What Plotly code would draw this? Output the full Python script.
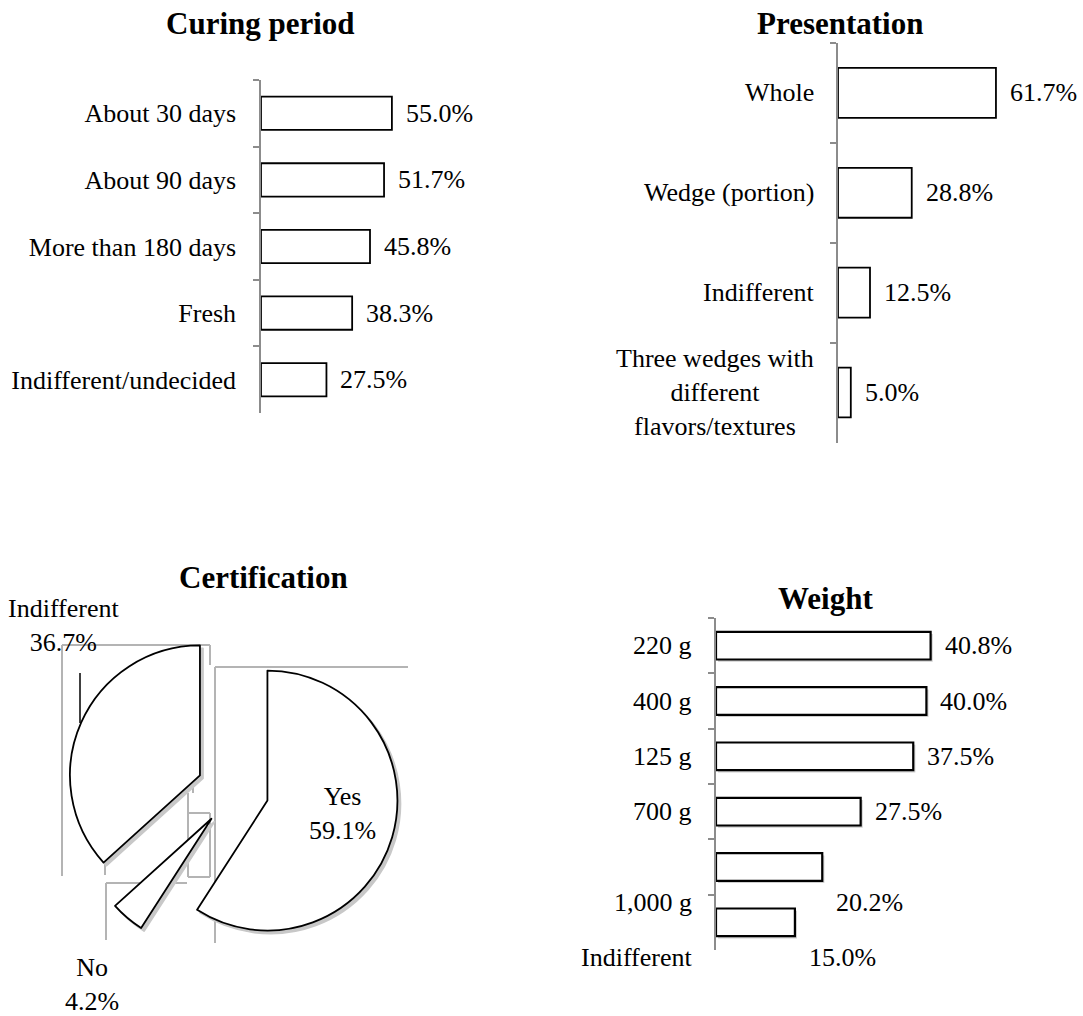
import plotly.graph_objects as go

FONT = "Liberation Serif, Times New Roman, serif"

# ---------------- data ----------------
curing_cats = ["About 30 days", "About 90 days", "More than 180 days", "Fresh", "Indifferent/undecided"]
curing_vals = [55.0, 51.7, 45.8, 38.3, 27.5]

pres_cats = ["Whole", "Wedge (portion)", "Indifferent", "Three wedges with<br>different<br>flavors/textures"]
pres_vals = [61.7, 28.8, 12.5, 5.0]

cert_labels = ["Yes", "No", "Indifferent"]
cert_vals = [59.1, 4.2, 36.7]

weight_cats = ["220 g", "400 g", "125 g", "700 g", "1,000 g", "Indifferent"]
weight_vals = [40.8, 40.0, 37.5, 27.5, 20.2, 15.0]

# ---------------- helpers (pixel -> paper) ----------------
W, H = 1083, 1016
def px(x):
    return x / W
def py(y):
    return 1 - y / H

GRAY = "#8c8c8c"
TXT = dict(family=FONT, size=26, color="black")

fig = go.Figure()

bar_line = dict(color="black", width=1.8)

fig.add_trace(go.Bar(orientation="h", x=curing_vals, y=curing_cats, width=0.5,
                     marker=dict(color="white", line=bar_line),
                     xaxis="x", yaxis="y", hoverinfo="skip", showlegend=False))
fig.add_trace(go.Bar(orientation="h", x=pres_vals, y=pres_cats, width=0.5,
                     marker=dict(color="white", line=bar_line),
                     xaxis="x2", yaxis="y2", hoverinfo="skip", showlegend=False))
# soft shadow behind weight bars
fig.add_trace(go.Bar(orientation="h", x=weight_vals, y=weight_cats, width=0.5, offset=-0.21,
                     base=0.4, marker=dict(color="#cfcfcf", line=dict(width=0)),
                     xaxis="x3", yaxis="y3", hoverinfo="skip", showlegend=False))
fig.add_trace(go.Bar(orientation="h", x=weight_vals, y=weight_cats, width=0.5, offset=-0.25,
                     marker=dict(color="white", line=dict(color="black", width=2.2)),
                     xaxis="x3", yaxis="y3", hoverinfo="skip", showlegend=False))

# pie (shadow + main)
pulls = [0.26, 0.28, 0.295]
pie_cx, pie_cy, pie_r = 235, 791, 130
half = pie_r * (1 + max(pulls))
for dx, dy, fill, line in [(3, 3, "#c8c8c8", "#c8c8c8"), (0, 0, "white", "black")]:
    fig.add_trace(go.Pie(values=cert_vals, labels=cert_labels, sort=False,
                         direction="clockwise", rotation=0, pull=pulls,
                         marker=dict(colors=[fill] * 3, line=dict(color=line, width=1.8)),
                         textinfo="none", hoverinfo="skip", showlegend=False,
                         domain=dict(x=[px(pie_cx + dx - half), px(pie_cx + dx + half)],
                                     y=[py(pie_cy + dy + half), py(pie_cy + dy - half)])))

def yax(dom):
    return dict(domain=dom, type="category", autorange="reversed",
                showline=True, linecolor=GRAY, linewidth=1.5,
                ticks="outside", tickson="boundaries", ticklen=6, tickwidth=1.5, tickcolor=GRAY,
                showgrid=False, zeroline=False, fixedrange=True)

def xax(dom, rng):
    return dict(domain=dom, range=rng, visible=False, fixedrange=True)

y1 = yax([py(413), py(80)])
y1.update(showticklabels=True, tickfont=TXT, ticklabelstandoff=18, anchor="x")
y2 = yax([py(443), py(43)])
y2.update(showticklabels=False, anchor="x2")
y3 = yax([py(950), py(618)])
y3.update(showticklabels=False, anchor="x3")

fig.update_layout(
    width=W, height=H, margin=dict(l=0, r=0, t=0, b=0),
    paper_bgcolor="white", plot_bgcolor="rgba(0,0,0,0)",
    font=dict(family=FONT, size=26, color="black"),
    barmode="overlay", showlegend=False,
    xaxis=xax([px(261), px(261 + 70 * 2.38)], [0, 70]),
    yaxis=y1,
    xaxis2=xax([px(838), px(838 + 80 * 2.56)], [0, 80]),
    yaxis2=y2,
    xaxis3=xax([px(716), px(716 + 50 * 5.26)], [0, 50]),
    yaxis3=y3,
)

ann = []
# titles
for t, x, y in [("Curing period", 260, 24), ("Presentation", 840, 24),
                ("Certification", 263, 577), ("Weight", 825, 598)]:
    ann.append(dict(text="<b>%s</b>" % t, x=px(x), y=py(y), xref="paper", yref="paper",
                    xanchor="center", yanchor="middle", showarrow=False,
                    font=dict(family=FONT, size=31, color="black")))

# value labels
for vals, cats, xr, yr, shifts in [
        (curing_vals, curing_cats, "x", "y", [0] * 5),
        (pres_vals, pres_cats, "x2", "y2", [0] * 4),
        (weight_vals, weight_cats, "x3", "y3", [0, 0, 0, 0, -35, -35])]:
    for v, c, s in zip(vals, cats, shifts):
        ann.append(dict(text="%.1f%%" % v, x=v, y=c, xref=xr, yref=yr,
                        xanchor="left", yanchor="middle", xshift=12, yshift=s,
                        showarrow=False, font=TXT))

# category labels (presentation: centered multi-line; weight: shifted)
for c in pres_cats:
    ann.append(dict(text=c, x=0, y=c, xref="x2", yref="y2", xanchor="right", yanchor="middle",
                    align="center", xshift=-22, showarrow=False, font=TXT))
for c, s in zip(weight_cats, [0, 0, 0, 0, -35, -35]):
    ann.append(dict(text=c, x=0, y=c, xref="x3", yref="y3", xanchor="right", yanchor="middle",
                    align="right", xshift=-22, yshift=s, showarrow=False, font=TXT))

# pie labels
for lab, v, x, y in zip(cert_labels, cert_vals, [343, 92, 63], [813, 984, 625]):
    ann.append(dict(text="%s<br>%.1f%%" % (lab, v), x=px(x), y=py(y), xref="paper", yref="paper",
                    xanchor="center", yanchor="middle", align="center", showarrow=False, font=TXT))

fig.update_layout(annotations=ann)

# faint gray artefact frame lines around the pie (as in source figure)
segs = [((62, 645), (210, 645)), ((210, 645), (210, 665)), ((62, 645), (62, 876)),
        ((215, 667), (408, 667)), ((215, 667), (215, 943)), ((193, 667), (193, 793)),
        ((188, 793), (188, 877)), ((188, 813), (210, 813)), ((210, 813), (210, 877)),
        ((188, 877), (210, 877)),
        ((105, 815), (163, 815)), ((105, 815), (105, 875)),
        ((106, 883), (187, 883)), ((106, 883), (106, 940))]
shapes = []
for (x0, y0), (x1, y1_) in segs:
    shapes.append(dict(type="line", xref="paper", yref="paper", x0=px(x0), y0=py(y0),
                       x1=px(x1), y1=py(y1_), line=dict(color="#b4b4b4", width=2), layer="below"))
shapes.append(dict(type="line", xref="paper", yref="paper", x0=px(80), y0=py(673),
                   x1=px(80), y1=py(723), line=dict(color="black", width=1.5), layer="below"))
fig.update_layout(shapes=shapes)

fig.write_html("out.html", config={"displayModeBar": False},
               post_script="document.body.style.margin='0';document.body.style.overflow='hidden';")
